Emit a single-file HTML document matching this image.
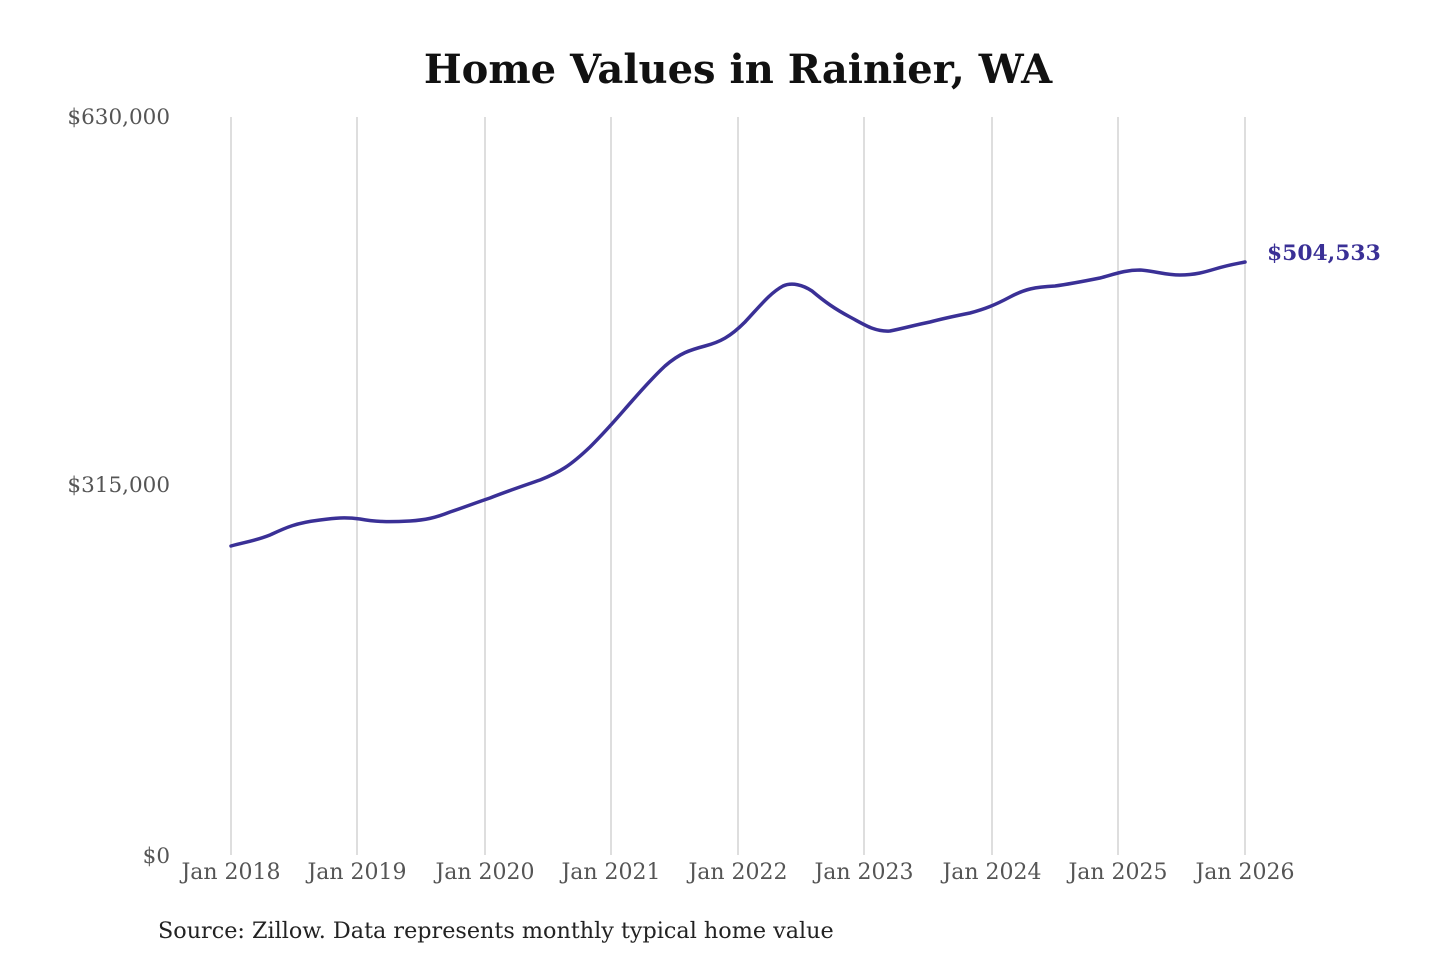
<!DOCTYPE html>
<html><head><meta charset="utf-8"><style>
html,body{margin:0;padding:0;background:#fff;}
svg{display:block;}
</style></head><body>
<svg width="1440" height="960" viewBox="0 0 1440 960" xmlns="http://www.w3.org/2000/svg">
<rect width="1440" height="960" fill="#fff"/>
<text x="738" y="83" text-anchor="middle" font-family="DejaVu Serif, serif" font-weight="bold" font-size="40" fill="#111">Home Values in Rainier, WA</text>
<g stroke="#c8c8c8" stroke-width="1.2">
<line x1="231" y1="117" x2="231" y2="855"/>
<line x1="357" y1="117" x2="357" y2="855"/>
<line x1="485" y1="117" x2="485" y2="855"/>
<line x1="611" y1="117" x2="611" y2="855"/>
<line x1="738" y1="117" x2="738" y2="855"/>
<line x1="864" y1="117" x2="864" y2="855"/>
<line x1="992" y1="117" x2="992" y2="855"/>
<line x1="1118" y1="117" x2="1118" y2="855"/>
<line x1="1245" y1="117" x2="1245" y2="855"/>
</g>
<g font-family="DejaVu Serif, serif" font-size="21.5" fill="#555" text-anchor="end">
<text x="170" y="124">$630,000</text>
<text x="170" y="492">$315,000</text>
<text x="170" y="863">$0</text>
</g>
<g font-family="DejaVu Serif, serif" font-size="22" fill="#555" text-anchor="middle">
<text x="231" y="879">Jan 2018</text>
<text x="357" y="879">Jan 2019</text>
<text x="485" y="879">Jan 2020</text>
<text x="611" y="879">Jan 2021</text>
<text x="738" y="879">Jan 2022</text>
<text x="864" y="879">Jan 2023</text>
<text x="992" y="879">Jan 2024</text>
<text x="1118" y="879">Jan 2025</text>
<text x="1245" y="879">Jan 2026</text>
</g>
<path fill="none" stroke="#3a3096" stroke-width="3.5" stroke-linejoin="round" stroke-linecap="round"
d="M231,546 C245,542 255,541 270,535 C285,528 295,523 320,520 C335,518 345,517 360,519 C375,522 390,522 410,521 C425,520 435,518 450,512 C465,507 475,503 490,498 C505,492 520,487 540,480 C560,472 570,466 590,447 C605,432 612,424 625,409 C640,392 650,380 665,366 C680,353 690,350 705,346 C720,342 730,337 745,322 C760,306 770,293 783,286 C792,282 803,285 812,291 C825,302 835,309 850,317 C865,325 875,332 890,331 C905,328 915,325 930,322 C945,318 955,316 970,313 C985,309 995,305 1010,297 C1025,289 1035,287 1055,286 C1070,284 1085,281 1100,278 C1115,274 1125,270 1140,270 C1155,271 1165,275 1180,275 C1195,275 1205,272 1215,269 C1228,265 1235,264 1245,262"/>
<text x="1267" y="260" font-family="DejaVu Serif, serif" font-weight="bold" font-size="21.8" fill="#3a3096">$504,533</text>
<text x="158" y="938" font-family="DejaVu Serif, serif" font-size="22.3" fill="#222">Source: Zillow. Data represents monthly typical home value</text>
</svg>
</body></html>
